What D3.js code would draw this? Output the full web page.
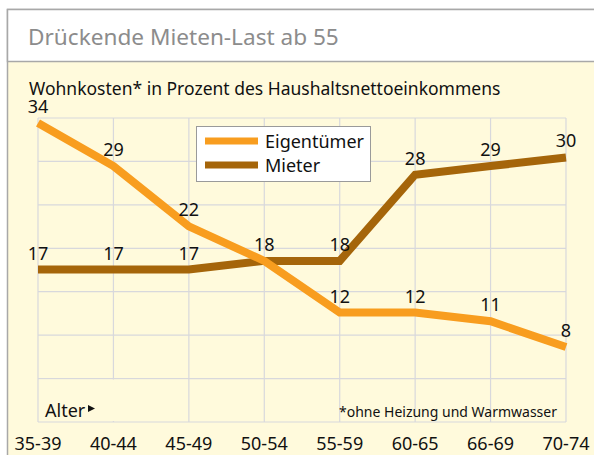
<!DOCTYPE html>
<html>
<head>
<meta charset="utf-8">
<script src="https://cdn.jsdelivr.net/npm/d3@7"></script>
<style>
  body { margin: 0; background: #ffffff; }
  text { font-family: "Noto Sans", "Open Sans", sans-serif; }
</style>
</head>
<body>
<div id="chart"></div>
<script>
// Chart data
var ageGroups = ["35-39", "40-44", "45-49", "50-54", "55-59", "60-65", "66-69", "70-74"];
var eigentuemer = [34, 29, 22, 18, 12, 12, 11, 8];
var mieter = [17, 17, 17, 18, 18, 28, 29, 30];
var seriesNames = ["Eigentümer", "Mieter"];

// svg size
var svgWidth = 594;
var svgHeight = 455;

var orange = "#f89d1f";
var brown = "#a5650a";
var gridColor = "#d8d8dc";

var svg = d3.select("#chart")
  .append("svg")
  .attr("width", svgWidth)
  .attr("height", svgHeight);

// frame: white header + yellow body
svg.append("rect")
  .attr("x", 7.5).attr("y", 9.5)
  .attr("width", 600).attr("height", 460)
  .attr("fill", "#fffadc")
  .attr("stroke", "#a8a8a8")
  .attr("stroke-width", 1.5);

svg.append("rect")
  .attr("x", 7.5).attr("y", 9.5)
  .attr("width", 600).attr("height", 52)
  .attr("fill", "#ffffff")
  .attr("stroke", "#a8a8a8")
  .attr("stroke-width", 1.5);

svg.append("text")
  .attr("x", 28)
  .attr("y", 45)
  .attr("font-size", "22.6px")
  .attr("fill", "#8c8c8c")
  .text("Drückende Mieten-Last ab 55");

svg.append("text")
  .attr("x", 29)
  .attr("y", 95)
  .attr("font-size", "17.5px")
  .attr("fill", "#111")
  .text("Wohnkosten* in Prozent des Haushaltsnettoeinkommens");

// scales
var xScale = d3.scalePoint()
  .domain(ageGroups)
  .range([38, 566]);

var yScale = d3.scaleLinear()
  .domain([0, 34])
  .range([416, 123]);

// grid: 7 x 7 cells
var gridTop = 118;
var gridBottom = 422;
var gridRows = d3.range(8).map(i => gridTop + i * (gridBottom - gridTop) / 7);

var gridGrp = svg.append("g")
  .attr("stroke", gridColor)
  .attr("stroke-width", 1.2);

gridGrp.selectAll("line.h")
  .data(gridRows)
  .enter()
  .append("line")
  .attr("x1", xScale.range()[0])
  .attr("x2", xScale.range()[1])
  .attr("y1", d => d)
  .attr("y2", d => d);

gridGrp.selectAll("line.v")
  .data(ageGroups)
  .enter()
  .append("line")
  .attr("x1", d => xScale(d))
  .attr("x2", d => xScale(d))
  .attr("y1", gridTop)
  .attr("y2", gridBottom);

// box behind "Alter" hides one grid line in the bottom row
svg.append("rect")
  .attr("x", xScale(ageGroups[0]) + 1)
  .attr("y", gridRows[6] + 1)
  .attr("width", xScale(ageGroups[2]) - xScale(ageGroups[0]) - 2)
  .attr("height", gridRows[7] - gridRows[6] - 2)
  .attr("fill", "#fffadc");

svg.append("text")
  .attr("x", 45)
  .attr("y", 417)
  .attr("font-size", "18px")
  .attr("fill", "#111")
  .text("Alter");

svg.append("path")
  .attr("d", "M88,405 L95,408.5 L88,412 Z")
  .attr("fill", "#111");

svg.append("text")
  .attr("x", 557)
  .attr("y", 417)
  .attr("text-anchor", "end")
  .attr("font-size", "14px")
  .attr("fill", "#111")
  .text("*ohne Heizung und Warmwasser");

// x axis labels
svg.selectAll("text.xlab")
  .data(ageGroups)
  .enter()
  .append("text")
  .attr("x", d => xScale(d))
  .attr("y", 450)
  .attr("text-anchor", "middle")
  .attr("font-size", "18px")
  .attr("fill", "#111")
  .text(d => d);

// lines
var line = d3.line()
  .x((d, i) => xScale(ageGroups[i]))
  .y(d => yScale(d));

svg.append("path")
  .datum(mieter)
  .attr("d", line)
  .attr("fill", "none")
  .attr("stroke", brown)
  .attr("stroke-width", 8)
  .attr("stroke-linejoin", "miter");

svg.append("path")
  .datum(eigentuemer)
  .attr("d", line)
  .attr("fill", "none")
  .attr("stroke", orange)
  .attr("stroke-width", 8)
  .attr("stroke-linejoin", "miter");

// value labels (skip the Mieter one where both lines meet at the same value)
var labels = [];
eigentuemer.forEach((v, i) => labels.push({ cat: ageGroups[i], value: v }));
mieter.forEach((v, i) => {
  if (v !== eigentuemer[i]) labels.push({ cat: ageGroups[i], value: v });
});

svg.selectAll("text.val")
  .data(labels)
  .enter()
  .append("text")
  .attr("x", d => xScale(d.cat))
  .attr("y", d => yScale(d.value) - 10)
  .attr("text-anchor", "middle")
  .attr("font-size", "18px")
  .attr("fill", "#111")
  .text(d => d.value);

// legend
var legend = svg.append("g");

legend.append("rect")
  .attr("x", 196.5).attr("y", 126.5)
  .attr("width", 174).attr("height", 55)
  .attr("fill", "#ffffff")
  .attr("stroke", "#9a9a9a")
  .attr("stroke-width", 1);

legend.selectAll("rect.sw")
  .data(seriesNames)
  .enter()
  .append("rect")
  .attr("x", 205)
  .attr("y", (d, i) => 137.5 + i * 24)
  .attr("width", 53)
  .attr("height", 7)
  .attr("fill", (d, i) => i === 0 ? orange : brown);

legend.selectAll("text.lg")
  .data(seriesNames)
  .enter()
  .append("text")
  .attr("x", 265)
  .attr("y", (d, i) => 148 + i * 24)
  .attr("font-size", "18px")
  .attr("fill", "#111")
  .text(d => d);
</script>
</body>
</html>
